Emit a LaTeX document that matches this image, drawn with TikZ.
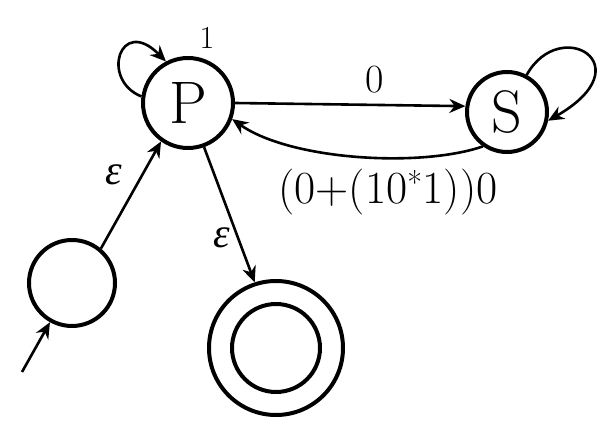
\documentclass[tikz,border=0pt]{standalone}
\usepackage{fontspec}
\newfontfamily\grk{Liberation Serif}
\usetikzlibrary{arrows.meta}
\begin{document}
\begin{tikzpicture}[x=1pt,y=-1pt,
 state/.style={circle,draw,line width=4pt,inner sep=0pt},
 edge/.style={draw,line width=2.6pt,-{Stealth[length=16pt,width=14pt]}},
 lbl/.style={font=\fontsize{42}{44}\selectfont},
 big/.style={font=\fontsize{60}{62}\selectfont}]
\useasboundingbox (0,0) rectangle (616,438);
\node[state,minimum size=90pt,big] (p) at (188,103) {P};
\node[state,minimum size=80pt,big] (s) at (507,112) {S};
\node[state,minimum size=86pt] (q0) at (72,283) {};
\node[state,minimum size=134pt] (f) at (276,348) {};
\node[state,minimum size=88pt] (fi) at (276,348) {};
\coordinate (init) at (22,372);
\draw[edge] (init) -- (q0);
\draw[edge] (q0.50) -- (p.235);
\node[lbl] (e1) at (114,175) {\grk\itshape ε};
\draw[edge] (p.-70) -- (f.108);
\node[lbl] (e2) at (222,238) {\grk\itshape ε};
\draw[edge] (p.east) -- (s.172);
\node[lbl,font=\fontsize{40}{42}\selectfont] (l0) at (375,80) {0};
\draw[edge] (s.235) .. controls (420,168) and (290,160) .. (p.-20);
\node[lbl,font=\fontsize{46}{48}\selectfont] (lr) at (388,192) {(0+(10\textsuperscript{*}1))0};
\draw[edge] (p.172) .. controls (100,80) and (120,15) .. (p.118);
\node[lbl,font=\fontsize{32}{34}\selectfont] (l1) at (207,38) {1};
\draw[edge] (s.62) .. controls (560,15) and (645,65) .. (s.-12);
\end{tikzpicture}
\end{document}
